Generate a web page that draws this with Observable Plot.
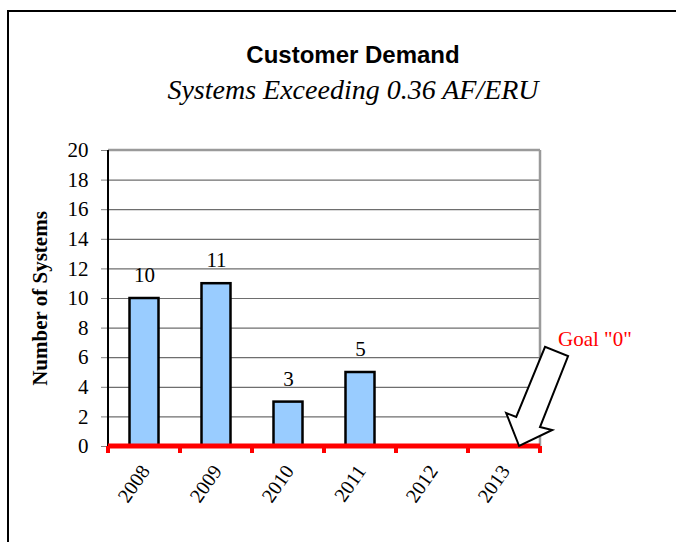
<!DOCTYPE html>
<html>
<head>
<meta charset="utf-8">
<script src="https://cdn.jsdelivr.net/npm/d3@7"></script>
<script src="https://cdn.jsdelivr.net/npm/@observablehq/plot@0.6"></script>
<style>
  html, body { margin: 0; padding: 0; background: #fff; }
  #wrap { position: relative; width: 676px; height: 542px; overflow: hidden; }
  #frame { position: absolute; left: 7px; top: 10px; width: 700px; height: 600px;
           border-top: 2px solid #000; border-left: 2px solid #000; }
  #title { position: absolute; left: 0; width: 706px; top: 43px; text-align: center; line-height: 1;
           font-family: "Liberation Sans", Arial, sans-serif; font-weight: bold; font-size: 24px; color: #000; }
  #subtitle { position: absolute; left: 0; width: 706px; top: 76px; text-align: center; line-height: 1;
           font-family: "Liberation Serif", "DejaVu Serif", serif; font-style: italic; font-size: 28px; color: #000; }
  #chart { position: absolute; left: 0; top: 120px; }
</style>
</head>
<body>
<div id="wrap">
  <div id="frame"></div>
  <div id="title">Customer Demand</div>
  <div id="subtitle">Systems Exceeding 0.36 AF/ERU</div>
  <div id="chart"></div>
</div>
<script>
const years = ["2008", "2009", "2010", "2011", "2012", "2013"];
const systems = [10, 11, 3, 5, null, null];
const yTicks = [0, 2, 4, 6, 8, 10, 12, 14, 16, 18, 20];
const goalLabel = 'Goal "0"';
// block arrow outline in data units: [fraction of band past 2013 start, y value]
const arrowPts = [[0.71, 0], [0.53, 2.23], [0.67, 1.96], [1.07, 6.7], [1.39, 6.08], [1.0, 1.28], [1.17, 1.08]];
const goalPos = [1.25, 7.1];

const data = years.map((y, i) => ({year: y, value: systems[i]}));
const barData = data.filter(d => d.value != null);

const serif = '"Liberation Serif", "DejaVu Serif", serif';

function customMark(fn) {
  return (index, scales, values, dimensions, context) => {
    const g = d3.create("svg:g");
    fn(g, scales, dimensions);
    return g.node();
  };
}

const spines = customMark((g, s) => {
  const x = s.x, bw = x.bandwidth();
  const x0 = x(years[0]), x1 = x(years[years.length - 1]) + bw;
  const yTop = s.y(20), y0 = s.y(0);
  g.append("line").attr("x1", x0).attr("x2", x1).attr("y1", yTop).attr("y2", yTop)
    .attr("stroke", "#9a9a9a").attr("stroke-width", 2.5);
  g.append("line").attr("x1", x1).attr("x2", x1).attr("y1", yTop).attr("y2", y0)
    .attr("stroke", "#9a9a9a").attr("stroke-width", 2.5);
  g.append("line").attr("x1", x0).attr("x2", x0).attr("y1", yTop).attr("y2", y0)
    .attr("stroke", "#000").attr("stroke-width", 2);
});

const redAxis = customMark((g, s) => {
  const x = s.x, bw = x.bandwidth();
  const y0 = s.y(0);
  const xs = years.map(y => x(y));
  xs.push(x(years[years.length - 1]) + bw);
  g.append("line").attr("x1", xs[0]).attr("x2", xs[xs.length - 1])
    .attr("y1", y0).attr("y2", y0).attr("stroke", "red").attr("stroke-width", 5);
  xs.forEach(px => {
    g.append("line").attr("x1", px).attr("x2", px).attr("y1", y0).attr("y2", y0 + 7)
      .attr("stroke", "red").attr("stroke-width", 4);
  });
});

const arrowMark = customMark((g, s) => {
  const x = s.x, bw = x.bandwidth();
  const base = x("2013");
  const pts = arrowPts.map(([f, v]) => [base + f * bw, s.y(v)]);
  g.append("polygon").attr("points", pts.map(p => p.join(",")).join(" "))
    .attr("fill", "#fff").attr("stroke", "#000").attr("stroke-width", 2).attr("stroke-linejoin", "miter");
  g.append("text").attr("x", base + goalPos[0] * bw).attr("y", s.y(goalPos[1]))
    .attr("fill", "red").attr("font-family", serif).attr("font-size", 21)
    .attr("text-anchor", "start").attr("dominant-baseline", "middle").text(goalLabel);
});

const plot = Plot.plot({
  width: 676,
  height: 422,
  marginTop: 30,
  marginLeft: 108,
  marginRight: 136,
  marginBottom: 96,
  style: {fontFamily: serif, fontSize: "21px", color: "#000", background: "transparent", overflow: "visible"},
  x: {domain: years, padding: 0, label: null},
  y: {domain: [0, 20], label: null},
  marks: [
    Plot.ruleY(yTicks.filter(t => t > 0 && t < 20), {stroke: "#6e6e6e", strokeWidth: 1.2}),
    Plot.axisY({ticks: yTicks, tickSize: 7, tickPadding: 13, stroke: "#808080", fontSize: 21, label: null}),
    spines,
    Plot.barY(barData, {x: "year", y: "value", fill: "#99CCFF", stroke: "#000", strokeWidth: 2.5, insetLeft: 21.5, insetRight: 21.5}),
    Plot.text(barData, {x: "year", y: "value", text: d => String(d.value), dy: -23, fontSize: 21}),
    Plot.axisX({tickSize: 0, tickPadding: 21, tickRotate: -55, fontSize: 20, label: null, dx: 1}),
    redAxis,
    arrowMark,
    Plot.text(["Number of Systems"], {frameAnchor: "left", textAnchor: "middle", rotate: -90, dx: -68, fontWeight: "bold", fontSize: 21})
  ]
});
document.getElementById("chart").appendChild(plot);
</script>
</body>
</html>
